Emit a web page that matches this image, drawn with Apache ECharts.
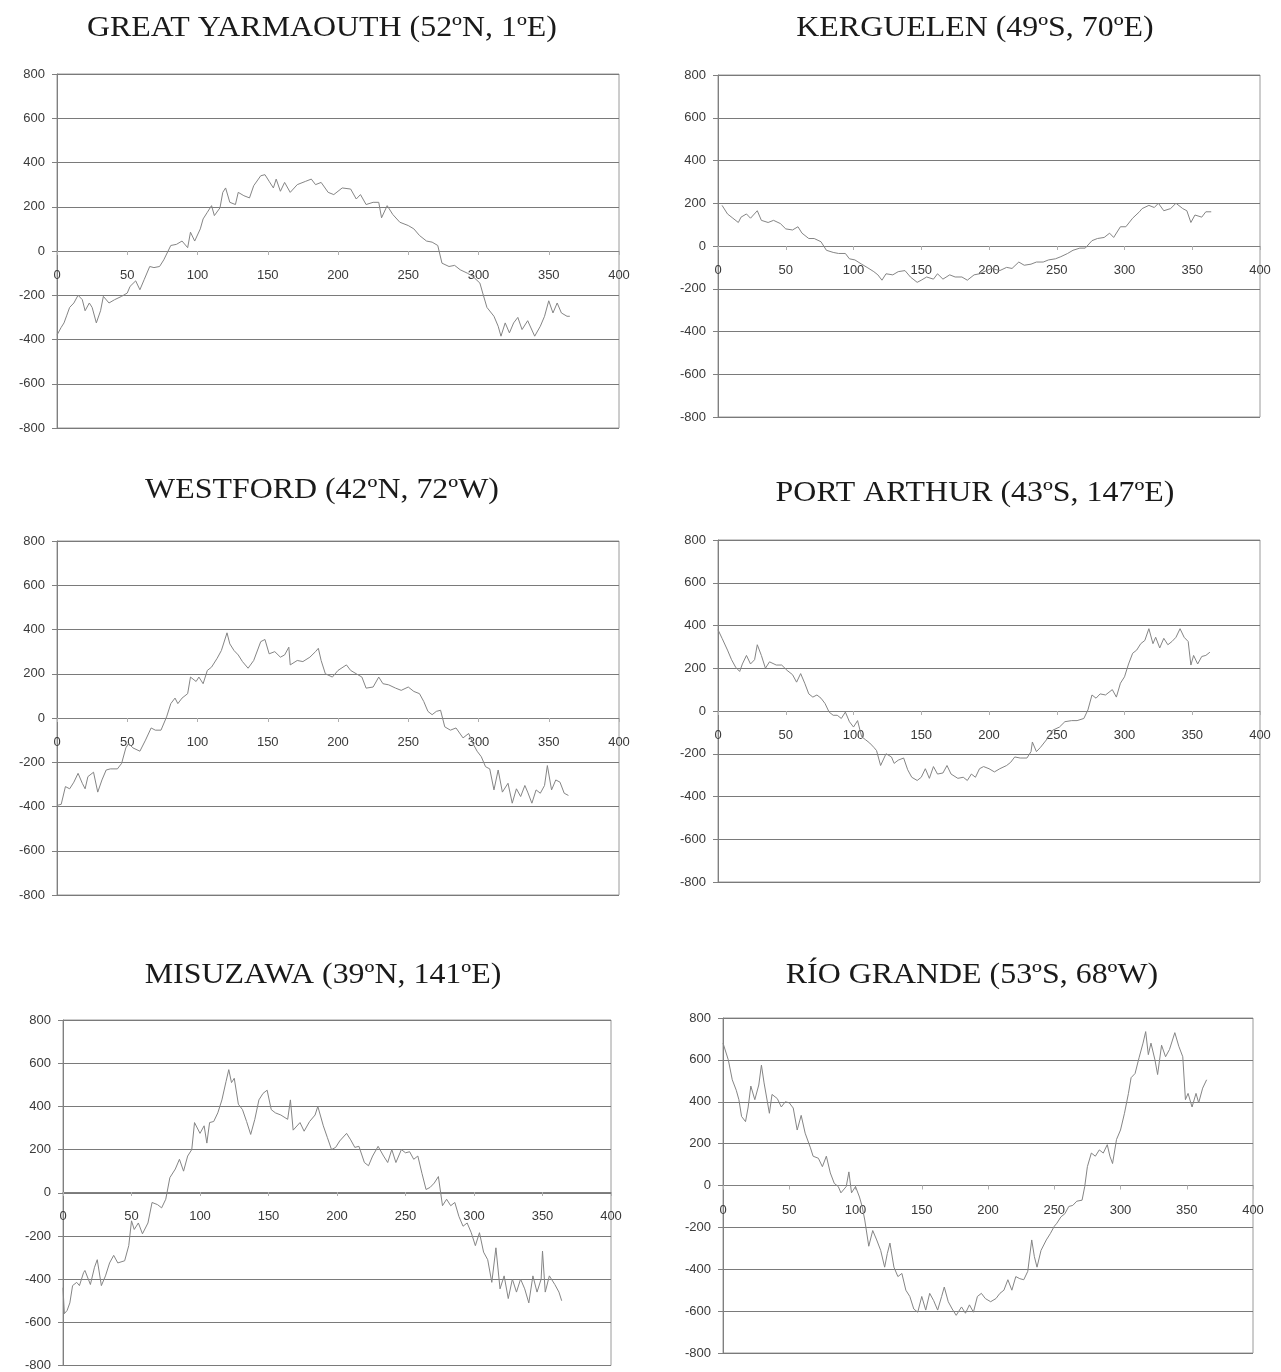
<!DOCTYPE html>
<html>
<head>
<meta charset="utf-8">
<title>Stations</title>
<script src="https://cdn.jsdelivr.net/npm/echarts@6/dist/echarts.min.js"></script>
<style>
    html, body { margin: 0; padding: 0; background: #fff; }
    #chart { width: 1281px; height: 1372px; }
</style>
</head>
<body>
<div id="chart"></div>
<script>
// day of year, value
var yarmouth = [
    [0, -380], [3, -345], [5, -325], [7, -290], [9, -255], [12, -235], [15, -200], [18, -220], [20, -270],
    [23, -235], [25, -255], [28, -325], [31, -270], [33, -205], [37, -235], [41, -220], [46, -205], [50, -190],
    [52, -160], [56, -135], [59, -175], [62, -130], [66, -70], [69, -75], [73, -70], [76, -40], [81, 25],
    [85, 30], [89, 45], [93, 15], [95, 85], [98, 45], [102, 100], [104, 145], [107, 175], [110, 205],
    [112, 160], [116, 195], [118, 265], [120, 285], [123, 220], [127, 210], [129, 265], [133, 250], [137, 240],
    [140, 295], [145, 340], [148, 345], [151, 315], [154, 285], [156, 325], [159, 270], [162, 310], [166, 265],
    [171, 300], [177, 315], [181, 325], [184, 300], [188, 310], [193, 265], [197, 255], [203, 285], [209, 280],
    [213, 235], [216, 255], [220, 210], [225, 220], [229, 220], [231, 150], [235, 205], [239, 165], [244, 130],
    [250, 115], [254, 100], [258, 70], [263, 45], [267, 40], [271, 25], [274, -55], [279, -70], [283, -65],
    [287, -85], [292, -100], [296, -115], [301, -145], [303, -190], [306, -255], [311, -295], [314, -340],
    [316, -385], [319, -325], [322, -370], [325, -325], [328, -300], [331, -355], [335, -315], [340, -385],
    [344, -340], [347, -295], [350, -225], [353, -280], [356, -235], [359, -280], [363, -295], [365, -295]
];

var kerguelen = [
    [3, 190], [7, 150], [11, 130], [15, 110], [17, 135], [21, 150], [24, 130], [29, 165], [32, 120],
    [37, 110], [41, 120], [46, 105], [50, 80], [55, 75], [59, 90], [62, 60], [67, 35], [71, 35], [76, 20],
    [80, -20], [85, -30], [89, -35], [94, -35], [97, -60], [101, -65], [106, -85], [110, -100], [115, -120],
    [118, -135], [121, -160], [124, -130], [129, -135], [133, -120], [138, -115], [142, -145], [147, -170],
    [150, -160], [154, -145], [159, -155], [162, -130], [166, -155], [171, -135], [175, -145], [180, -145],
    [184, -160], [189, -135], [193, -130], [198, -115], [202, -105], [208, -115], [213, -100], [217, -105],
    [222, -75], [226, -90], [231, -85], [235, -75], [240, -75], [244, -65], [249, -60], [253, -50], [258, -35],
    [262, -20], [267, -10], [271, -10], [276, 25], [280, 35], [285, 40], [289, 60], [292, 40], [297, 90],
    [301, 90], [306, 130], [311, 160], [313, 175], [318, 190], [322, 180], [325, 200], [329, 165], [334, 175],
    [338, 200], [343, 175], [346, 165], [349, 110], [352, 145], [357, 135], [360, 160], [364, 160]
];

var westford = [
    [0, -395], [3, -390], [6, -310], [9, -320], [12, -290], [15, -250], [18, -295], [20, -320], [22, -265],
    [26, -245], [29, -335], [32, -280], [35, -235], [38, -230], [43, -230], [46, -205], [49, -135], [51, -115],
    [54, -135], [59, -150], [63, -100], [67, -45], [70, -55], [74, -55], [78, 5], [81, 65], [84, 90],
    [86, 65], [89, 90], [93, 110], [95, 185], [99, 165], [101, 185], [104, 155], [107, 215], [110, 230],
    [114, 270], [117, 305], [121, 385], [123, 335], [126, 305], [129, 285], [132, 255], [136, 225], [140, 260],
    [145, 345], [148, 355], [151, 290], [155, 300], [159, 275], [162, 285], [165, 320], [166, 240], [171, 260],
    [175, 255], [180, 275], [184, 300], [186, 315], [188, 260], [191, 200], [196, 185], [200, 215], [206, 240],
    [209, 215], [213, 200], [217, 185], [220, 135], [225, 140], [229, 185], [232, 155], [236, 150], [241, 135],
    [245, 125], [250, 140], [254, 120], [258, 110], [261, 75], [264, 30], [267, 15], [270, 30], [273, 35],
    [276, -40], [280, -55], [284, -45], [289, -90], [293, -70], [296, -115], [299, -150], [302, -175],
    [305, -220], [308, -230], [311, -325], [314, -235], [317, -335], [321, -295], [324, -385], [327, -320],
    [330, -355], [333, -305], [335, -335], [338, -385], [341, -325], [344, -340], [347, -305], [349, -215],
    [352, -325], [355, -280], [358, -290], [361, -340], [364, -350]
];

var portArthur = [
    [0, 380], [3, 340], [7, 285], [10, 240], [13, 205], [16, 185], [18, 220], [21, 260], [24, 220],
    [27, 240], [29, 310], [32, 260], [35, 200], [38, 230], [43, 215], [47, 215], [51, 190], [55, 170],
    [58, 135], [61, 175], [64, 130], [67, 80], [70, 65], [73, 75], [76, 60], [79, 35], [82, -5], [85, -20],
    [88, -20], [91, -35], [94, -5], [97, -50], [100, -75], [103, -45], [106, -120], [109, -135], [112, -150],
    [115, -170], [117, -185], [120, -255], [124, -200], [128, -215], [130, -245], [133, -230], [137, -220],
    [140, -275], [143, -310], [147, -325], [150, -310], [153, -270], [156, -315], [159, -260], [162, -295],
    [166, -290], [169, -255], [172, -295], [177, -315], [181, -310], [184, -325], [187, -295], [190, -310],
    [193, -270], [196, -260], [200, -270], [204, -285], [208, -270], [213, -255], [216, -240], [219, -215],
    [223, -220], [228, -220], [231, -190], [232, -145], [235, -190], [238, -170], [243, -130], [247, -90],
    [252, -75], [256, -50], [261, -45], [265, -45], [270, -35], [273, 5], [276, 75], [279, 60], [282, 80],
    [286, 75], [291, 100], [294, 65], [297, 130], [300, 160], [303, 220], [306, 270], [309, 285], [312, 315],
    [315, 330], [318, 385], [321, 315], [323, 345], [326, 295], [329, 340], [332, 310], [335, 325], [338, 345],
    [341, 385], [344, 345], [347, 325], [349, 215], [351, 260], [354, 220], [357, 255], [360, 260], [363, 275]
];

var misuzawa = [
    [0, -440], [1, -560], [3, -545], [5, -510], [7, -430], [10, -415], [12, -430], [15, -370], [16, -360],
    [20, -425], [23, -345], [25, -310], [28, -430], [31, -385], [34, -325], [37, -290], [40, -325], [45, -315],
    [48, -245], [50, -130], [52, -170], [55, -140], [58, -190], [62, -140], [65, -45], [69, -55], [72, -70],
    [75, -30], [78, 70], [82, 110], [85, 155], [88, 100], [91, 170], [94, 200], [96, 325], [100, 275],
    [103, 310], [105, 230], [107, 325], [110, 330], [113, 370], [116, 430], [119, 515], [121, 570], [123, 510],
    [125, 530], [128, 410], [131, 385], [134, 330], [137, 270], [140, 340], [143, 430], [146, 460], [149, 475],
    [152, 385], [155, 370], [159, 360], [164, 340], [166, 430], [168, 290], [173, 325], [176, 285], [180, 330],
    [184, 360], [186, 400], [190, 310], [193, 255], [196, 200], [199, 210], [202, 240], [207, 275], [210, 245],
    [213, 210], [216, 215], [220, 140], [223, 125], [226, 170], [230, 215], [234, 170], [237, 140], [240, 200],
    [243, 140], [247, 200], [250, 185], [253, 190], [256, 155], [259, 170], [262, 90], [265, 15], [268, 25],
    [271, 45], [274, 75], [277, -60], [280, -30], [283, -60], [286, -45], [289, -110], [292, -155], [295, -140],
    [298, -185], [301, -245], [304, -185], [307, -275], [310, -310], [313, -415], [316, -255], [319, -445],
    [322, -385], [325, -490], [328, -400], [331, -460], [334, -400], [337, -445], [340, -510], [343, -385],
    [346, -460], [349, -400], [350, -270], [352, -460], [355, -385], [359, -425], [362, -460], [364, -500]
];

var rioGrande = [
    [0, 680], [4, 600], [7, 505], [10, 455], [12, 410], [14, 330], [17, 305], [19, 375], [21, 475],
    [24, 410], [27, 480], [29, 575], [31, 490], [35, 345], [37, 435], [41, 415], [44, 375], [47, 400],
    [50, 395], [53, 370], [56, 265], [59, 335], [62, 250], [66, 180], [68, 140], [72, 130], [75, 90],
    [78, 140], [81, 60], [84, 10], [87, -5], [89, -35], [93, -5], [95, 65], [97, -35], [100, -5], [103, -55],
    [105, -100], [107, -165], [110, -290], [113, -215], [116, -260], [119, -310], [122, -390], [124, -325],
    [126, -275], [129, -390], [132, -435], [135, -420], [138, -500], [141, -530], [144, -590], [147, -605],
    [150, -530], [153, -595], [156, -515], [159, -550], [162, -595], [165, -530], [167, -485], [170, -555],
    [173, -590], [176, -620], [180, -580], [183, -610], [186, -570], [189, -605], [192, -530], [195, -515],
    [198, -540], [202, -555], [206, -540], [209, -515], [212, -500], [215, -450], [218, -500], [221, -435],
    [224, -445], [227, -450], [230, -410], [233, -260], [235, -340], [237, -390], [240, -310], [244, -260],
    [247, -230], [250, -195], [252, -180], [255, -150], [258, -135], [261, -100], [264, -95], [267, -75],
    [271, -70], [273, -5], [275, 90], [278, 155], [281, 140], [284, 170], [287, 155], [290, 195], [292, 140],
    [294, 105], [297, 220], [300, 265], [303, 345], [306, 440], [308, 515], [311, 535], [314, 610], [317, 680],
    [319, 735], [321, 625], [323, 680], [326, 600], [328, 530], [331, 670], [334, 615], [337, 650], [341, 730],
    [344, 665], [347, 615], [349, 410], [351, 440], [354, 375], [357, 440], [359, 395], [362, 465], [365, 505]
];

var titles = [
    "GREAT YARMAOUTH (52ºN, 1ºE)",
    "KERGUELEN (49ºS, 70ºE)",
    "WESTFORD (42ºN, 72ºW)",
    "PORT ARTHUR (43ºS, 147ºE)",
    "MISUZAWA (39ºN, 141ºE)",
    "RÍO GRANDE (53ºS, 68ºW)"
];
var seriesData = [yarmouth, kerguelen, westford, portArthur, misuzawa, rioGrande];

var xMin = 0, xMax = 400, xStep = 50;
var yMin = -800, yMax = 800, yStep = 200;

// panel boxes: left, top, width, height, title x, title y
var boxes = [
    [57, 74, 562, 354, 322, 28],
    [718, 75, 542, 342, 975, 28],
    [57, 541, 562, 354, 322, 490],
    [718, 540, 542, 342, 975, 493],
    [63, 1020, 548, 347, 323, 975],
    [723, 1018, 530, 335, 972, 975]
];

function labelStyle(margin) {
    return {margin: margin, color: '#3a3a3a', fontSize: 13, fontFamily: 'Liberation Sans'};
}

var grids = [], xAxes = [], yAxes = [], series = [], texts = [];
boxes.forEach(function (b, i) {
    grids.push({
        left: b[0], top: b[1], width: b[2], height: b[3],
        show: true, borderColor: '#9a9a9a', borderWidth: 1
    });
    // zero is mid-height, so pull the x axis up onto the zero line
    xAxes.push({
        type: 'value', gridIndex: i, min: xMin, max: xMax, interval: xStep,
        position: 'bottom', offset: -b[3] * (0 - yMin) / (yMax - yMin),
        axisLine: {onZero: false, lineStyle: {color: '#808080'}},
        axisTick: {show: true, length: 4, lineStyle: {color: '#b0b0b0'}},
        axisLabel: labelStyle(18),
        splitLine: {show: false}
    });
    yAxes.push({
        type: 'value', gridIndex: i, min: yMin, max: yMax, interval: yStep,
        axisLine: {show: true, onZero: false, lineStyle: {color: '#808080'}},
        axisTick: {show: true, length: 5, lineStyle: {color: '#808080'}},
        axisLabel: labelStyle(12),
        splitLine: {show: true, lineStyle: {color: '#7a7a7a', width: 1}}
    });
    series.push({
        type: 'line', xAxisIndex: i, yAxisIndex: i,
        data: seriesData[i], showSymbol: false, silent: true,
        lineStyle: {color: '#858585', width: 1}
    });
    texts.push({
        type: 'text', x: b[4], y: b[5], scaleX: 1.1,
        style: {
            text: titles[i], fill: '#1a1a1a', align: 'center', verticalAlign: 'middle',
            font: '29px "Liberation Serif"'
        }
    });
});

var chart = echarts.init(document.getElementById('chart'));
chart.setOption({
    animation: false,
    backgroundColor: '#fff',
    grid: grids,
    xAxis: xAxes,
    yAxis: yAxes,
    series: series,
    graphic: texts
});
</script>
</body>
</html>
